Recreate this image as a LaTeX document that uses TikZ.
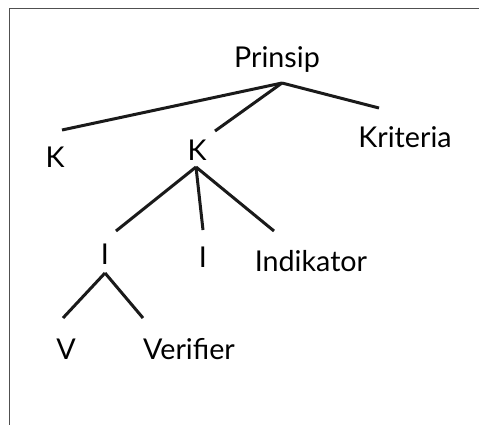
\documentclass[tikz,border=0pt]{standalone}
\usepackage{fontspec}
\setmainfont{Lato}

\tikzset{every picture/.style={line width=0.75pt}}
\tikzset{
  branch/.style={line width=2.25pt, color={rgb,255:red,26;green,26;blue,26}},
  frame/.style={line width=0.75pt, color={rgb,255:red,80;green,80;blue,80}},
  label/.style={anchor=base, inner sep=0.75pt, font=\fontsize{21.5}{25}\selectfont}
}

\begin{document}
\begin{tikzpicture}[x=0.75pt,y=0.75pt,yscale=-1,xscale=1]
\useasboundingbox (0,0) rectangle (479,425);

%Frame [top and left edges]
\draw [frame] (479,8) -- (9,8) -- (9,425);

%Branch points
\coordinate (prinsipJ) at (282,83);
\coordinate (kJ) at (196,167);
\coordinate (iJ) at (105,273);
%Branch ends
\coordinate (kaEnd) at (62,130);
\coordinate (kbEnd) at (215,131);
\coordinate (krEnd) at (379,108);
\coordinate (iaEnd) at (116,231);
\coordinate (ibEnd) at (203,230);
\coordinate (inEnd) at (274,231);
\coordinate (vEnd) at (63,318);
\coordinate (veEnd) at (143,318);

%Straight Lines
\draw [branch] (prinsipJ) -- (kaEnd) ;
\draw [branch] (prinsipJ) -- (kbEnd) ;
\draw [branch] (prinsipJ) -- (krEnd) ;
%Straight Lines
\draw [branch] (kJ) -- (iaEnd) ;
\draw [branch] (kJ) -- (ibEnd) ;
\draw [branch] (kJ) -- (inEnd) ;
%Straight Lines
\draw [branch] (iJ) -- (vEnd) ;
\draw [branch] (iJ) -- (veEnd) ;

% Text Node
\draw (277,67) node (prinsip) [label] {Prinsip};
% Text Node
\draw (55,167) node (ka) [label] {K};
% Text Node
\draw (197,160) node (kb) [label] {K};
% Text Node
\draw (405,147) node (kriteria) [label] {Kriteria};
% Text Node
\draw (105,264) node (ia) [label] {I};
% Text Node
\draw (203,267) node (ib) [label] {I};
% Text Node
\draw (311,271) node (indikator) [label] {Indikator};
% Text Node
\draw (66,359) node (v) [label] {V};
% Text Node
\draw (189,359) node (verifier) [label] {Verifier};

\end{tikzpicture}
\end{document}
